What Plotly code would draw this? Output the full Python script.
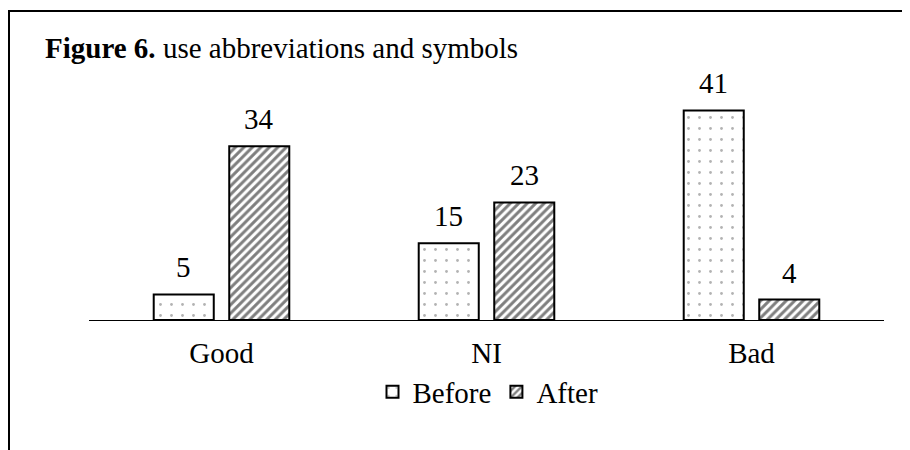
import plotly.graph_objects as go

categories = ["Good", "NI", "Bad"]
before = [5, 15, 41]
after = [34, 23, 4]
series_names = ["Before", "After"]
title_bold = "Figure 6."
title_rest = " use abbreviations and symbols"

FONT = "Liberation Serif"
FS = 29
OFF = 8  # page body margin
W, H = 910, 450
ML, MT = 81, 82
PLOT_W, PLOT_H = 795, 230
MR = W - ML - PLOT_W
MB = H - MT - PLOT_H
YMAX = 45
BARGAP = 0.43
GROUPGAP = 0.205

fig = go.Figure()
fig.add_trace(go.Bar(
    x=categories, y=before, name=series_names[0],
    marker=dict(color="white", line=dict(color="black", width=2),
                pattern=dict(shape=".", fgcolor="#666666", bgcolor="white",
                             size=11, solidity=0.05)),
))
fig.add_trace(go.Bar(
    x=categories, y=after, name=series_names[1],
    marker=dict(color="white", line=dict(color="black", width=2),
                pattern=dict(shape="/", fgcolor="black", bgcolor="white",
                             size=6, solidity=0.5)),
))

# value labels above bars
cat_w = PLOT_W / len(categories)
slot = (1 - BARGAP) * cat_w / 2
annotations = []
for si, vals in enumerate([before, after]):
    shift = (si - 0.5) * slot
    for c, v in zip(categories, vals):
        annotations.append(dict(
            x=c, y=v, xref="x", yref="y", text=str(v), showarrow=False,
            xshift=shift, yanchor="bottom", yshift=9,
            font=dict(family=FONT, size=FS, color="black")))

def py(p):
    return (MT + PLOT_H - (p - OFF)) / PLOT_H
def px(p):
    return (p - OFF - ML) / PLOT_W

annotations.append(dict(
    xref="paper", yref="paper", x=px(43), y=py(48), xanchor="left", yanchor="middle",
    text="<b>" + title_bold + "</b>" + title_rest, showarrow=False,
    font=dict(family=FONT, size=FS, color="black")))

shapes = [
    dict(type="line", xref="paper", yref="paper", x0=px(8), x1=px(940), y0=py(11), y1=py(11),
         line=dict(color="black", width=2)),
    dict(type="line", xref="paper", yref="paper", x0=px(9), x1=px(9), y0=py(11), y1=py(480),
         line=dict(color="black", width=2)),
]

fig.update_layout(
    width=W, height=H,
    margin=dict(l=ML, r=MR, t=MT, b=MB),
    paper_bgcolor="white", plot_bgcolor="white",
    barmode="group", bargap=BARGAP, bargroupgap=GROUPGAP,
    font=dict(family=FONT, size=FS, color="black"),
    showlegend=True,
    legend=dict(orientation="h", x=px(488), xanchor="center", y=py(392), yanchor="middle",
                font=dict(family=FONT, size=FS, color="black"), itemwidth=30,
                bgcolor="rgba(0,0,0,0)"),
    annotations=annotations,
    shapes=shapes,
    xaxis=dict(showline=True, linecolor="black", linewidth=1, ticks="", showgrid=False,
               zeroline=False, ticklabelstandoff=7,
               tickfont=dict(family=FONT, size=FS, color="black")),
    yaxis=dict(range=[0, YMAX], visible=False, showgrid=False, zeroline=False),
)

fig.write_html("out.html")
